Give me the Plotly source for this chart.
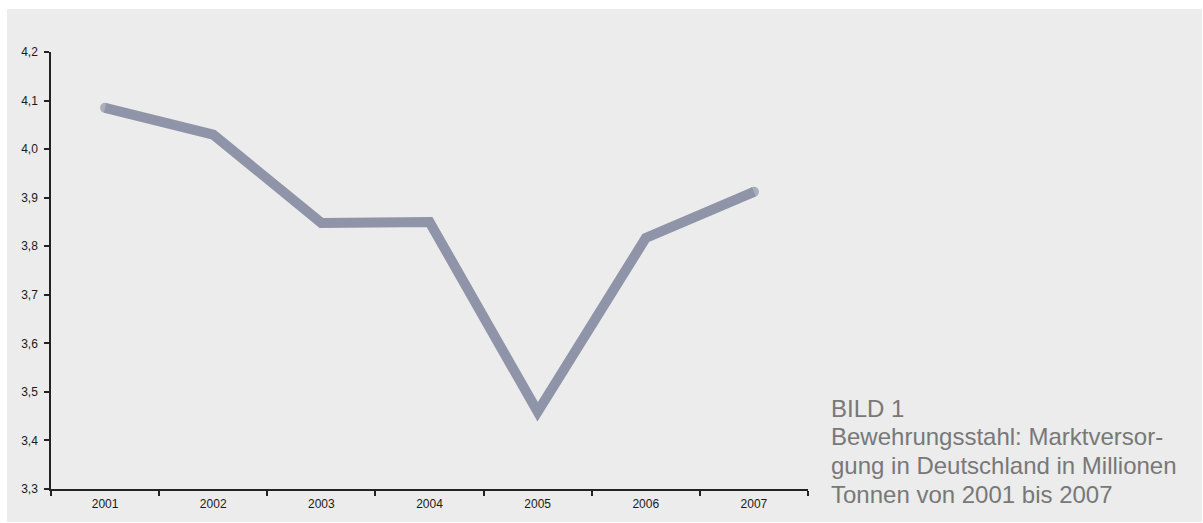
import plotly.graph_objects as go

years = ["2001", "2002", "2003", "2004", "2005", "2006", "2007"]
values = [4.085, 4.03, 3.848, 3.85, 3.459, 3.817, 3.912]
y_ticks = [3.3, 3.4, 3.5, 3.6, 3.7, 3.8, 3.9, 4.0, 4.1, 4.2]
caption = ["BILD 1", "Bewehrungsstahl: Marktversor-",
           "gung in Deutschland in Millionen", "Tonnen von 2001 bis 2007"]

W, H = 1203, 523
L, R, T, B = 51, 395, 52, 34
pw, ph = W - L - R, H - T - B

def px_x(x):
    return (x - L) / pw

def px_y(y):
    return (H - B - y) / ph

FONT = "Arial, Liberation Sans, sans-serif"
line_color = "#8f94a8"
lw = 10

fig = go.Figure()
fig.add_trace(go.Scatter(
    x=years, y=values, mode="lines+markers",
    line=dict(color=line_color, width=lw),
    marker=dict(size=[lw] + [0] * (len(values) - 2) + [lw], color=line_color,
                line=dict(width=0)),
    hoverinfo="skip", showlegend=False,
))

fig.add_shape(type="rect", xref="paper", yref="paper", layer="below",
              x0=px_x(7), x1=px_x(1202), y0=px_y(522), y1=px_y(9),
              fillcolor="#ebeceb", line=dict(width=0))

cap_y = [408, 436, 465, 494]
for txt, yy in zip(caption, cap_y):
    fig.add_annotation(text=txt, xref="paper", yref="paper",
                       x=px_x(829), y=px_y(yy), xanchor="left", yanchor="middle",
                       showarrow=False,
                       font=dict(family=FONT, size=24, color="#787878"))

fig.update_layout(
    width=W, height=H,
    margin=dict(l=L, r=R, t=T, b=B, pad=0),
    paper_bgcolor="white", plot_bgcolor="rgba(0,0,0,0)",
    separators=", ",
    font=dict(family=FONT, size=12, color="#1a1a1a"),
    xaxis=dict(type="category", range=[-0.5, 6.5], tickson="boundaries",
               ticks="outside", ticklen=5, tickwidth=1.5, tickcolor="#222222",
               showline=True, linecolor="#222222", linewidth=1.5,
               showgrid=False, zeroline=False, ticklabelstandoff=3, fixedrange=True),
    yaxis=dict(range=[3.3, 4.2], tickvals=y_ticks, tickformat=".1f",
               ticks="outside", ticklen=5, tickwidth=1.5, tickcolor="#222222",
               showline=True, linecolor="#222222", linewidth=1.5,
               showgrid=False, zeroline=False, ticklabelstandoff=4, fixedrange=True),
)

fig.write_html("out.html")
